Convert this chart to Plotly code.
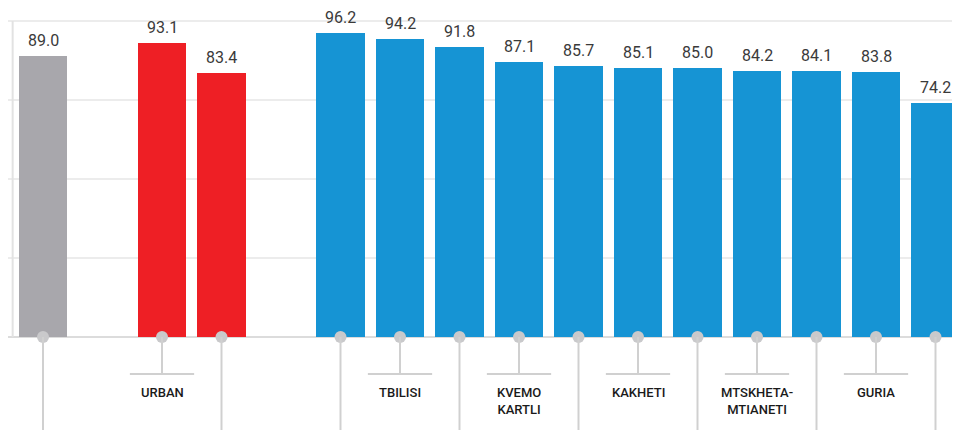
import plotly.graph_objects as go

# ---- data ----
total_labels = [""]
total_values = [89.0]

area_labels = ["URBAN", ""]
area_values = [93.1, 83.4]

region_labels = ["", "TBILISI", "", "KVEMO<br>KARTLI", "", "KAKHETI", "",
                 "MTSKHETA-<br>MTIANETI", "", "GURIA", ""]
region_values = [96.2, 94.2, 91.8, 87.1, 85.7, 85.1, 85.0, 84.2, 84.1, 83.8, 74.2]

grid_ticks = [0, 25, 50, 75, 100]

# ---- style ----
GRAY = "#a8a7ac"
RED = "#ee1f25"
BLUE = "#1694d4"
LINE = "#d0d0d0"
GRID = "#ececec"

groups = [
    (total_labels, total_values, GRAY),
    (area_labels, area_values, RED),
    (region_labels, region_values, BLUE),
]

# slot positions with one empty slot between groups
xs, labels, values, colors = [], [], [], []
pos = 0
for labs, vals, col in groups:
    for l, v in zip(labs, vals):
        xs.append(pos)
        labels.append(l)
        values.append(v)
        colors.append(col)
        pos += 1
    pos += 1

OFF = 8  # page body margin
px_per_unit = 3.16
ymax = 100 + (21 - OFF) / px_per_unit
ymin = -(430 - (337 - OFF)) / px_per_unit
slot = 59.5
xmin = -(43 - OFF) / slot
xmax = xmin + 960 / slot

fig = go.Figure()

fig.add_trace(go.Bar(
    x=xs, y=values, marker=dict(color=colors, line=dict(width=0)),
    width=0.81, hoverinfo="skip", showlegend=False,
))

shapes = []
# gridlines + axis
for t in grid_ticks:
    shapes.append(dict(type="line", xref="x", yref="y", x0=-0.6, x1=xmax, y0=t, y1=t,
                       line=dict(color=GRID if t else "#dcdcdc", width=2), layer="below"))
shapes.append(dict(type="line", xref="x", yref="y", x0=-0.51, x1=-0.51, y0=0, y1=100,
                   line=dict(color="#e2e2e2", width=2), layer="below"))

short_end = -11.7
annotations = []
for x, l, v in zip(xs, labels, values):
    if l:
        shapes.append(dict(type="line", xref="x", yref="y", x0=x, x1=x, y0=0, y1=short_end,
                           line=dict(color=LINE, width=2)))
        shapes.append(dict(type="line", xref="x", yref="y", x0=x - 0.54, x1=x + 0.54,
                           y0=short_end, y1=short_end, line=dict(color=LINE, width=2)))
        annotations.append(dict(x=x, y=short_end, xref="x", yref="y", text=l,
                                showarrow=False, yanchor="top", yshift=-9,
                                font=dict(family="Roboto", size=13, color="#1a1a1a",
                                          weight=500)))
    else:
        shapes.append(dict(type="line", xref="x", yref="y", x0=x, x1=x, y0=0, y1=ymin,
                           line=dict(color=LINE, width=2)))
    annotations.append(dict(x=x, y=v, xref="x", yref="y", text=f"{v:.1f}",
                            showarrow=False, yanchor="bottom", yshift=4,
                            font=dict(family="Roboto", size=16, color="#3a3a3a")))

fig.add_trace(go.Scatter(
    x=xs, y=[0] * len(xs), mode="markers",
    marker=dict(size=12, color="#c9c9cb"), hoverinfo="skip", showlegend=False,
    cliponaxis=False,
))

fig.update_layout(
    width=960, height=430,
    margin=dict(l=0, r=0, t=0, b=0),
    paper_bgcolor="white", plot_bgcolor="white",
    xaxis=dict(range=[xmin, xmax], visible=False, fixedrange=True),
    yaxis=dict(range=[ymin, ymax], visible=False, fixedrange=True),
    shapes=shapes, annotations=annotations,
    bargap=0,
)

fig.write_html("out.html")
